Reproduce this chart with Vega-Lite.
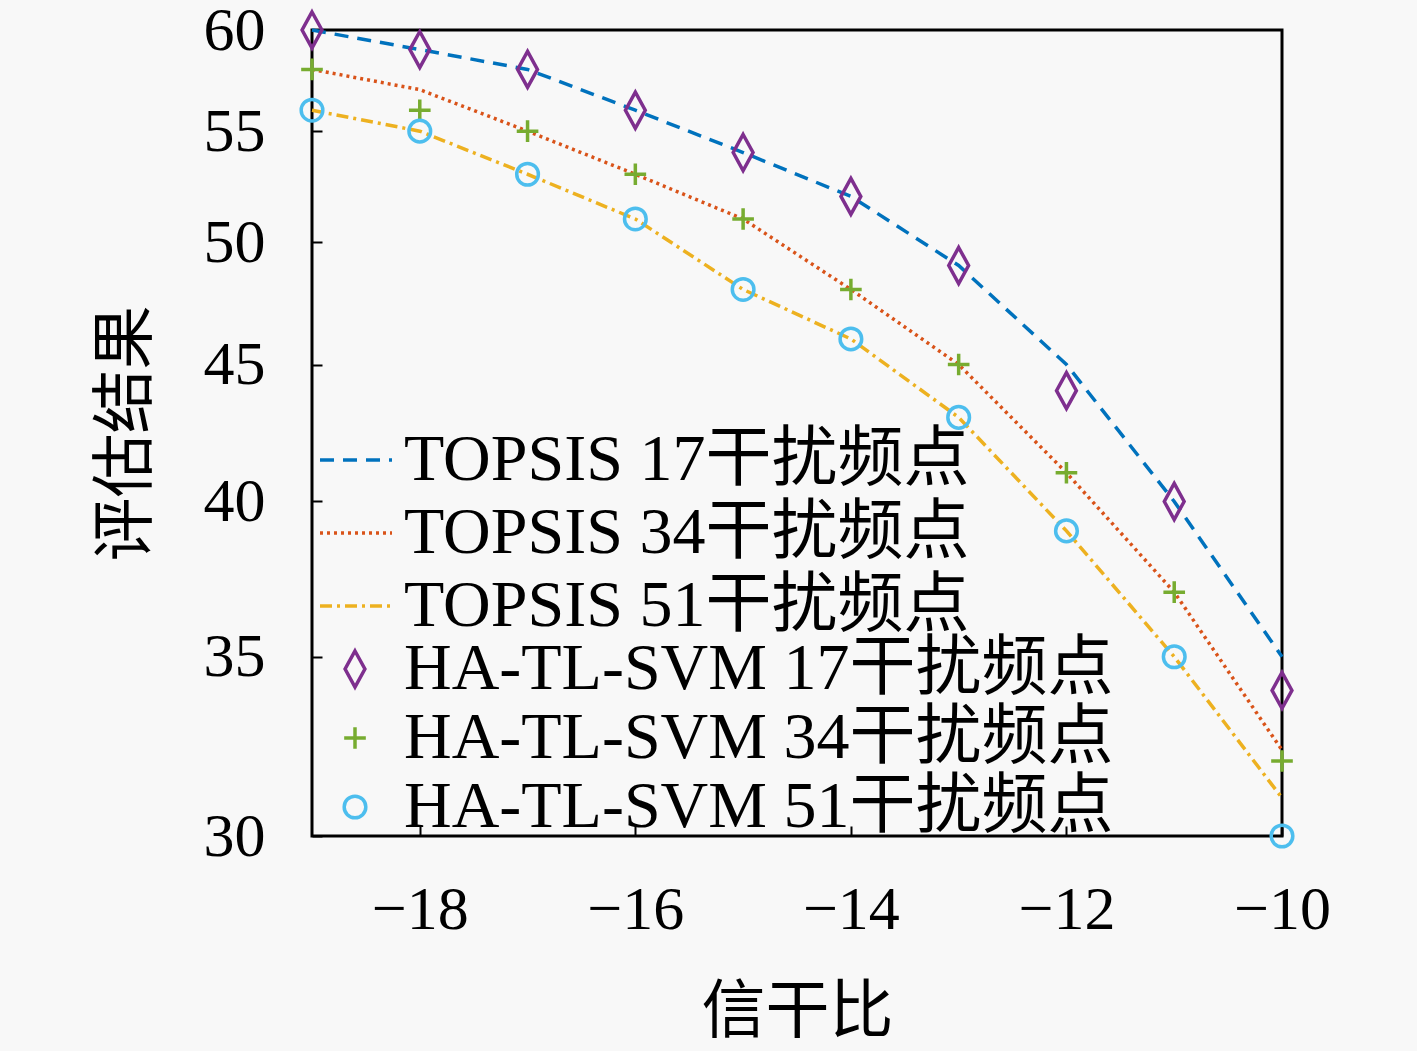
{
  "$schema": "https://vega.github.io/schema/vega-lite/v6.json",
  "width": 970,
  "height": 806,
  "autosize": {"type": "none"},
  "padding": {"left": 312, "top": 30, "right": 135, "bottom": 215},
  "background": "#f8f8f8",
  "config": {
    "font": "Liberation Serif, Noto Sans CJK SC",
    "view": {"stroke": "black", "strokeWidth": 3},
    "axis": {
      "domain": false,
      "grid": false,
      "labelFlush": false,
      "tickColor": "black",
      "tickWidth": 2,
      "tickSize": -10,
      "labelFont": "Liberation Serif",
      "labelFontSize": 62,
      "labelColor": "black",
      "titleFont": "Noto Sans CJK SC",
      "titleFontSize": 64,
      "titleFontWeight": "normal",
      "titleColor": "black"
    }
  },
  "datasets": {
    "lines": [
      {"x": -19, "v": 60, "s": "TOPSIS 17干扰频点"},
      {"x": -18, "v": 59, "s": "TOPSIS 17干扰频点"},
      {"x": -17, "v": 58, "s": "TOPSIS 17干扰频点"},
      {"x": -16, "v": 56, "s": "TOPSIS 17干扰频点"},
      {"x": -15, "v": 54, "s": "TOPSIS 17干扰频点"},
      {"x": -14, "v": 52, "s": "TOPSIS 17干扰频点"},
      {"x": -13, "v": 49, "s": "TOPSIS 17干扰频点"},
      {"x": -12, "v": 45, "s": "TOPSIS 17干扰频点"},
      {"x": -11, "v": 40, "s": "TOPSIS 17干扰频点"},
      {"x": -10, "v": 35, "s": "TOPSIS 17干扰频点"},
      {"x": -19, "v": 58, "s": "TOPSIS 34干扰频点"},
      {"x": -18, "v": 57, "s": "TOPSIS 34干扰频点"},
      {"x": -17, "v": 55, "s": "TOPSIS 34干扰频点"},
      {"x": -16, "v": 53, "s": "TOPSIS 34干扰频点"},
      {"x": -15, "v": 51, "s": "TOPSIS 34干扰频点"},
      {"x": -14, "v": 48, "s": "TOPSIS 34干扰频点"},
      {"x": -13, "v": 45, "s": "TOPSIS 34干扰频点"},
      {"x": -12, "v": 41, "s": "TOPSIS 34干扰频点"},
      {"x": -11, "v": 37, "s": "TOPSIS 34干扰频点"},
      {"x": -10, "v": 32.3, "s": "TOPSIS 34干扰频点"},
      {"x": -19, "v": 56, "s": "TOPSIS 51干扰频点"},
      {"x": -18, "v": 55, "s": "TOPSIS 51干扰频点"},
      {"x": -17, "v": 53, "s": "TOPSIS 51干扰频点"},
      {"x": -16, "v": 51, "s": "TOPSIS 51干扰频点"},
      {"x": -15, "v": 48, "s": "TOPSIS 51干扰频点"},
      {"x": -14, "v": 46, "s": "TOPSIS 51干扰频点"},
      {"x": -13, "v": 43, "s": "TOPSIS 51干扰频点"},
      {"x": -12, "v": 39, "s": "TOPSIS 51干扰频点"},
      {"x": -11, "v": 35, "s": "TOPSIS 51干扰频点"},
      {"x": -10, "v": 31, "s": "TOPSIS 51干扰频点"}
    ],
    "points": [
      {"x": -19, "v": 60, "m": "HA-TL-SVM 17干扰频点"},
      {"x": -18, "v": 59, "m": "HA-TL-SVM 17干扰频点"},
      {"x": -17, "v": 58, "m": "HA-TL-SVM 17干扰频点"},
      {"x": -16, "v": 56, "m": "HA-TL-SVM 17干扰频点"},
      {"x": -15, "v": 54, "m": "HA-TL-SVM 17干扰频点"},
      {"x": -14, "v": 52, "m": "HA-TL-SVM 17干扰频点"},
      {"x": -13, "v": 49, "m": "HA-TL-SVM 17干扰频点"},
      {"x": -12, "v": 44, "m": "HA-TL-SVM 17干扰频点"},
      {"x": -11, "v": 40, "m": "HA-TL-SVM 17干扰频点"},
      {"x": -10, "v": 34, "m": "HA-TL-SVM 17干扰频点"},
      {"x": -19, "v": 58, "m": "HA-TL-SVM 34干扰频点"},
      {"x": -18, "v": 56, "m": "HA-TL-SVM 34干扰频点"},
      {"x": -17, "v": 55, "m": "HA-TL-SVM 34干扰频点"},
      {"x": -16, "v": 53, "m": "HA-TL-SVM 34干扰频点"},
      {"x": -15, "v": 51, "m": "HA-TL-SVM 34干扰频点"},
      {"x": -14, "v": 48, "m": "HA-TL-SVM 34干扰频点"},
      {"x": -13, "v": 45, "m": "HA-TL-SVM 34干扰频点"},
      {"x": -12, "v": 41, "m": "HA-TL-SVM 34干扰频点"},
      {"x": -11, "v": 37, "m": "HA-TL-SVM 34干扰频点"},
      {"x": -10, "v": 32, "m": "HA-TL-SVM 34干扰频点"},
      {"x": -19, "v": 56, "m": "HA-TL-SVM 51干扰频点"},
      {"x": -18, "v": 55, "m": "HA-TL-SVM 51干扰频点"},
      {"x": -17, "v": 53, "m": "HA-TL-SVM 51干扰频点"},
      {"x": -16, "v": 51, "m": "HA-TL-SVM 51干扰频点"},
      {"x": -15, "v": 48, "m": "HA-TL-SVM 51干扰频点"},
      {"x": -14, "v": 46, "m": "HA-TL-SVM 51干扰频点"},
      {"x": -13, "v": 43, "m": "HA-TL-SVM 51干扰频点"},
      {"x": -12, "v": 39, "m": "HA-TL-SVM 51干扰频点"},
      {"x": -11, "v": 35, "m": "HA-TL-SVM 51干扰频点"},
      {"x": -10, "v": 30, "m": "HA-TL-SVM 51干扰频点"}
    ]
  },
  "layer": [
    {
      "data": {"name": "lines"},
      "mark": {"type": "line", "strokeWidth": 3.5, "clip": false},
      "encoding": {
        "x": {
          "field": "x", "type": "quantitative",
          "scale": {"domain": [-19, -10], "nice": false, "zero": false},
          "axis": {"values": [-18, -16, -14, -12, -10], "format": "d", "labelPadding": 53, "titlePadding": 40},
          "title": "信干比"
        },
        "y": {
          "field": "v", "type": "quantitative",
          "scale": {"type": "log", "domain": [30, 60], "nice": false},
          "axis": {"values": [30, 35, 40, 45, 50, 55, 60], "format": "d", "labelPadding": 57, "titlePadding": 45},
          "title": "评估结果"
        },
        "color": {
          "field": "s", "type": "nominal",
          "scale": {"domain": ["TOPSIS 17干扰频点", "TOPSIS 34干扰频点", "TOPSIS 51干扰频点"], "range": ["#0072BD", "#D95319", "#EDB120"]},
          "legend": {"orient": "none", "legendX": 6, "legendY": 392, "title": null, "symbolType": "stroke", "symbolSize": 5184, "symbolStrokeWidth": 3.5, "labelFontSize": 66, "labelFont": "Liberation Serif, Noto Sans CJK SC", "labelColor": "black", "labelOffset": 10, "rowPadding": 2, "padding": 0, "labelLimit": 0}
        },
        "strokeDash": {
          "field": "s", "type": "nominal",
          "scale": {"domain": ["TOPSIS 17干扰频点", "TOPSIS 34干扰频点", "TOPSIS 51干扰频点"], "range": [[14, 9], [3, 4], [12, 5, 3, 5]]},
          "legend": {"orient": "none", "legendX": 6, "legendY": 392, "title": null, "symbolType": "stroke", "symbolSize": 5184, "symbolStrokeWidth": 3.5, "labelFontSize": 66, "labelFont": "Liberation Serif, Noto Sans CJK SC", "labelColor": "black", "labelOffset": 10, "rowPadding": 2, "padding": 0, "labelLimit": 0}
        }
      }
    },
    {
      "data": {"name": "points"},
      "mark": {"type": "point", "filled": false, "strokeWidth": 3.5, "size": 1300, "clip": false, "opacity": 1},
      "encoding": {
        "x": {"field": "x", "type": "quantitative"},
        "y": {"field": "v", "type": "quantitative"},
        "color": {
          "field": "m", "type": "nominal",
          "scale": {"domain": ["HA-TL-SVM 17干扰频点", "HA-TL-SVM 34干扰频点", "HA-TL-SVM 51干扰频点"], "range": ["#7E2F8E", "#77AC30", "#4DBEEE"]},
          "legend": {"orient": "none", "legendX": 10, "legendY": 606, "title": null, "symbolSize": 1300, "symbolStrokeWidth": 3.5, "labelFontSize": 66, "labelFont": "Liberation Serif, Noto Sans CJK SC", "labelColor": "black", "labelOffset": 16, "rowPadding": 3, "padding": 0, "labelLimit": 0}
        },
        "shape": {
          "field": "m", "type": "nominal",
          "scale": {"domain": ["HA-TL-SVM 17干扰频点", "HA-TL-SVM 34干扰频点", "HA-TL-SVM 51干扰频点"], "range": ["M0,-1L0.55,0L0,1L-0.55,0Z", "M-0.6,0L0.6,0M0,-0.6L0,0.6", "M0.6,0A0.6,0.6 0 1,1 -0.6,0A0.6,0.6 0 1,1 0.6,0Z"]},
          "legend": {"orient": "none", "legendX": 10, "legendY": 606, "title": null, "symbolSize": 1300, "symbolStrokeWidth": 3.5, "labelFontSize": 66, "labelFont": "Liberation Serif, Noto Sans CJK SC", "labelColor": "black", "labelOffset": 16, "rowPadding": 3, "padding": 0, "labelLimit": 0}
        }
      }
    }
  ],
  "resolve": {"scale": {"color": "independent", "strokeDash": "independent", "shape": "independent"}}
}
